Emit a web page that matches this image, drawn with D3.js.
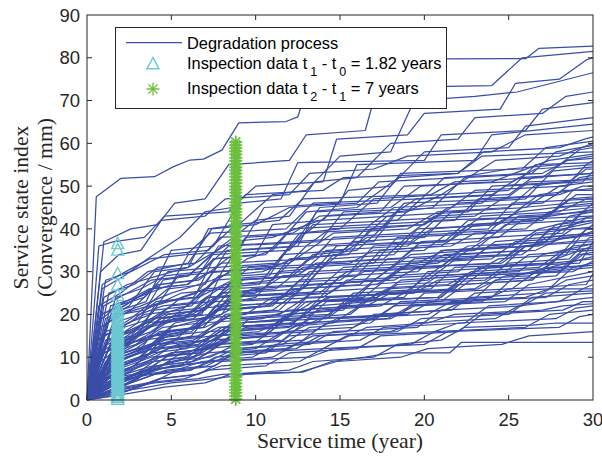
<!DOCTYPE html>
<html>
<head>
<meta charset="utf-8">
<script src="https://cdn.jsdelivr.net/npm/d3@7"></script>
<style>
  body { margin: 0; background: #fff; }
  svg { display: block; }
</style>
</head>
<body>
<div id="chart"></div>
<script>
const width = 602;
const height = 458;
const margin = { top: 15, right: 9, bottom: 58, left: 87 };

const xTicks = [0, 5, 10, 15, 20, 25, 30];
const yTicks = [0, 10, 20, 30, 40, 50, 60, 70, 80, 90];

// inspection times (years)
const t1 = 1.82;
const t2 = 8.82;

// degradation paths, flat [t, y, t, y, ...]
const paths = [
  [0,0, .55,47.5, 2,51.8, 4,52.2, 5.1,54.5, 6.1,56.1, 6.9,56.3, 8,58.4, 9,64.8, 11.8,65.1, 12.5,66.2, 13.6,79.6, 26,79.8, 26.8,82.2, 30,82.7],
  [0,0, 1,37, 2.6,40, 4.2,41, 5.2,46, 7,47, 8.4,55, 12,56, 13,62, 16.5,63, 17.2,73, 24,73.5, 25.8,80, 30,81.5],
  [0,0, .9,26, 2.2,29, 3.6,33, 5.5,38, 7,44, 8.6,45, 10,50, 14,51, 14.8,61, 19,62, 20,67, 24.5,68, 25.4,74, 28,75, 29.6,79.5, 30,80],
  [0,0, 1.1,19, 2.5,22, 4,30, 6,31, 7.2,40, 9,41, 11,48, 13,49, 15,57, 18,58, 19.4,70, 23,71, 25.5,72, 30,76.5],
  [0,0, 1.5,14, 3,18, 4.5,28, 6,29, 8,36, 10,42, 12,43, 13.5,51, 16,52, 18,60, 22,61, 23,66, 27,67, 28.4,71, 30,72],
  [0,0, 1,17, 2,21, 3.5,23, 5,35, 7.5,36, 9,46, 11.5,47, 12.5,55.5, 20,56, 21,62, 26,63, 27,68, 30,69.5],
  [0,0, 1.3,10, 3,15, 4,22, 6.5,25, 7.5,33, 10,34, 11,41, 14,42, 15.5,49, 18,50, 20,58, 25,59, 26,64, 30,66],
  [0,0, 1.8,21, 3,24, 5,27, 6,34, 9,35, 10.5,45, 15,46, 16,55, 23,56, 24,62, 30,64.5],
  [0,0, .8,30, 1.9,34, 3.2,35, 4.4,42, 7,43, 8.2,47, 12,48, 13.2,53, 17,54, 19,57, 24,58, 26,62, 30,63],
  [0,0, 1.6,12, 3.4,17, 5.6,24, 7,26, 9.5,33, 11,35, 13,44, 16,45, 18.5,52, 22,53, 23.5,58, 28,59, 29.5,61, 30,61.5],
  [0,0, 1.2,8, 2.8,14, 4,18, 6.8,20, 8,30, 11,31, 12.6,39, 15,40, 17,47, 21,48, 24.2,56, 28,57, 30,60],
  [0,0, .7,22, 2,25, 3.6,30, 6,32, 7.4,40, 10,41, 12,45, 16,46, 17.3,51, 22,52, 25,54, 28,55, 29.2,58.5, 30,59],
  [0,0, 1.4,16, 2.6,19, 4.8,26, 7,27, 8.3,35, 12.5,36, 13.6,44, 18,45, 19.8,50, 24,51, 27.4,56, 30,57.5],
  [0,0, 2,6, 3.5,10, 5,17, 7,19, 8.8,27, 11,28, 13,36, 17,37, 18.4,44, 20.5,45, 22.4,52, 27,53, 28.5,56, 30,56.5],
  [0,0, .9,12, 2.4,18, 3.8,20, 5.4,29, 8,30, 9.4,38, 13,39, 14.2,43, 19,44, 21,48, 25,49, 26.6,55, 30,55.5],
  [0,0, 1.6,9, 3,11, 4.6,19, 6.4,21, 8,25, 10.5,26, 12,33, 15.5,34, 16.8,40, 20,41, 22,46, 26,47, 27.6,53.5, 30,54.5],
  [0,0, 1,24, 2.4,27, 4.2,29, 6,31, 8.6,37, 11,38, 13.8,42, 18,43, 19.5,47, 24,48, 25.6,52, 30,53],
  [0,0, 1.7,20, 3.2,22, 5,25, 7.4,28, 9.2,31, 12,32, 14.6,39, 19,40, 20.8,44, 25,45, 26.5,50, 30,52],
  [0,0, 1.2,5, 2.8,8, 4.4,13, 6.2,15, 7.6,22, 10,24, 11.4,30, 14,31, 15.8,37, 20,38, 21.6,44, 26,45, 28,50, 30,51],
  [0,0, 2.2,11, 3.8,13, 5.2,18, 8,20, 9.2,28, 12,29, 13.4,34, 16,35, 18,42, 23,43, 24.6,47, 28,48, 29.4,50, 30,50],
  [0,0, .6,18, 1.8,22, 3.4,24, 4.8,30, 7.6,31, 9,35, 13,36, 14.4,40, 20,41, 21.4,45, 27,46, 28.2,49, 30,49],
  [0,0, 1.5,7, 3.2,10, 4.5,15, 6.6,17, 8.4,21, 11,22, 12.6,28, 16,29, 17.4,35, 21,36, 23,41, 27,42, 29,48, 30,48],
  [0,0, 1.1,14, 2.6,16, 4.4,20, 6,22, 7.8,29, 10.4,30, 12.2,33, 15,34, 16.6,38, 22,39, 23.4,43, 28,44, 29.6,47, 30,47],
  [0,0, 2.4,4, 4,7, 5.6,11, 8,13, 9.6,19, 12,20, 13.8,27, 17,28, 19.2,34, 23,35, 24.8,41, 28.8,42, 30,46],
  [0,0, .8,9, 2.2,13, 3.6,17, 5.8,19, 7.2,24, 10,25, 11.6,29, 15.6,30, 17,36, 21.4,37, 22.6,41, 26.6,42, 28,45, 30,45.5],
  [0,0, 1.3,19, 2.8,21, 4.6,23, 6.6,24, 8.6,28, 12.4,29, 13.6,32, 18.6,33, 19.8,37, 24.4,38, 25.8,42, 30,44.5],
  [0,0, 1.9,3, 3.4,6, 5,9, 7.2,11, 8.8,16, 11.2,17, 13,23, 16.4,24, 18,29, 22,30, 23.8,36, 27.2,37, 28.6,43, 30,44],
  [0,0, 1,11, 2.4,14, 3.8,16, 5.6,21, 8.2,22, 9.8,26, 14,27, 15.2,31, 19.6,32, 21.2,35, 25.2,36, 26.8,40, 30,43],
  [0,0, 1.6,2, 3,5, 4.2,8, 6.4,10, 8,14, 10.6,15, 12,20, 15.2,21, 16.8,27, 20.2,28, 22.2,34, 26.2,35, 27.4,40, 30,42],
  [0,0, .7,6, 2,10, 3.2,12, 5.2,14, 6.8,19, 9.4,20, 11,24, 14.4,25, 16.4,30, 21,31, 22.2,35, 26.8,36, 28.2,40, 30,41.5],
  [0,0, 1.4,13, 2.9,15, 4.2,18, 6.8,19, 8.4,22, 12.6,23, 14,27, 17.6,28, 19.2,32, 24,33, 25.4,37, 29,38, 30,41],
  [0,0, 2,8, 3.6,10, 5.4,13, 7.6,14, 9.2,18, 11.8,19, 13.4,23, 17.2,24, 18.6,28, 22.6,29, 24.4,33, 28.4,34, 29.6,40, 30,40],
  [0,0, 1.2,4, 2.6,7, 4,9, 6,10, 7.4,15, 10.2,16, 11.8,19, 15.6,20, 17.2,25, 21.8,26, 23.2,31, 27.6,32, 29,38, 30,39.5],
  [0,0, .9,15, 2.2,17, 3.8,19, 6.2,20, 7.6,23, 11.6,24, 13.2,27, 18.2,28, 19.6,31, 24.6,32, 26,36, 30,39],
  [0,0, 1.8,5, 3.2,8, 4.8,12, 7,13, 8.6,17, 12.2,18, 13.6,22, 16.8,23, 18.4,27, 23.6,28, 25,32, 28.6,33, 29.8,38, 30,38],
  [0,0, 1.1,7, 2.5,9, 3.9,11, 5.9,12, 7.2,16, 10.8,17, 12.4,21, 16,22, 17.8,26, 22.4,27, 23.8,31, 29.2,32, 30,37],
  [0,0, 1.5,10, 3,12, 4.4,14, 6.6,15, 8.2,19, 11.4,20, 13,24, 18.8,25, 20.2,29, 25.6,30, 27,34, 30,36.5],
  [0,0, .8,3, 2.1,5, 3.5,7, 5.5,8, 7,12, 9.8,13, 11.2,17, 14.6,18, 16.2,22, 20.6,23, 22,27, 26.4,28, 27.8,33, 30,36],
  [0,0, 1.3,9, 2.7,11, 4.1,13, 6.3,14, 7.8,17, 12,18, 13.8,21, 17.4,22, 18.8,25, 23,26, 24.6,30, 28.2,31, 29.4,35, 30,35],
  [0,0, 2.3,2, 3.8,4, 5.4,7, 7.6,8, 9,12, 11.6,13, 13.2,17, 16.8,18, 18.2,22, 22.8,23, 24.2,28, 27.8,29, 29.2,34, 30,34.5],
  [0,0, 1,5, 2.4,7, 3.8,9, 5.8,10, 7.2,13, 11,14, 12.6,18, 17,19, 18.6,23, 24,24, 25.4,29, 30,33.5],
  [0,0, 1.7,12, 3.1,14, 4.6,16, 7,17, 8.6,20, 13,21, 14.4,24, 19.4,25, 20.8,28, 26.2,29, 27.6,32, 30,33],
  [0,0, 1.2,2, 2.6,4, 4,6, 6.2,7, 7.6,10, 10.6,11, 12,15, 15.4,16, 17,20, 21.6,21, 23,25, 27.4,26, 28.8,31, 30,32],
  [0,0, .6,10, 1.9,13, 3.3,14, 5.3,15, 6.8,18, 10.4,19, 12,21, 16.6,22, 18,25, 23.2,26, 24.8,29, 30,31],
  [0,0, 1.9,4, 3.4,6, 4.9,9, 7.3,10, 8.8,13, 12.8,14, 14.2,18, 18,19, 19.4,22, 24.8,23, 26.2,27, 30,30],
  [0,0, 1.4,6, 2.8,8, 4.2,10, 6.4,11, 8,14, 11.2,15, 12.8,18, 17.8,19, 19.2,22, 23.4,23, 25,26, 29.6,27, 30,29.5],
  [0,0, 1,3, 2.3,5, 3.7,7, 5.7,8, 7.2,11, 10,12, 11.6,16, 15.8,17, 17.4,20, 21.2,21, 22.8,24, 27,25, 28.4,28, 30,29],
  [0,0, 2.1,7, 3.6,9, 5,11, 7.4,12, 9,15, 13.4,16, 14.8,19, 20.2,20, 21.6,23, 27.2,24, 28.6,27, 30,28],
  [0,0, 1.6,1, 3,3, 4.4,5, 6.6,6, 8,9, 11,10, 12.4,13, 16.2,14, 17.6,17, 22.4,18, 23.8,22, 28,23, 29.4,26, 30,27],
  [0,0, 1.1,8, 2.5,10, 3.9,12, 6.1,13, 7.6,15, 12.2,16, 13.8,19, 19,20, 20.4,23, 26,24, 27.4,26, 30,26],
  [0,0, 1.8,3, 3.3,5, 4.7,7, 7.1,8, 8.6,11, 12.4,12, 13.8,15, 18.4,16, 19.8,19, 25,20, 26.4,24, 30,25],
  [0,0, 1.3,5, 2.7,6, 4.1,8, 6.3,9, 7.8,11, 11.8,12, 13.4,15, 18,16, 19.4,18, 24.2,19, 25.6,22, 30,24],
  [0,0, .9,1, 2.2,3, 3.6,4, 5.8,5, 7.2,7, 10.6,8, 12,11, 16,12, 17.4,15, 22,16, 23.4,20, 28.2,21, 29.4,23, 30,23],
  [0,0, 2.2,5, 3.7,7, 5.2,8, 7.6,9, 9.2,11, 14,12, 15.4,15, 20.6,16, 22,18, 27.8,19, 29,21.5, 30,22],
  [0,0, 1.5,2, 2.9,3, 4.3,5, 6.5,6, 8,8, 12.6,9, 14,12, 19.2,13, 20.6,16, 26,17, 27.4,20, 30,21],
  [0,0, 1,4, 2.4,5, 3.8,6, 6,7, 7.4,9, 13.2,10, 14.6,12, 20,13, 21.4,16, 28,17, 29.2,19.5, 30,20],
  [0,0, 1.7,1, 3.2,2, 4.6,3, 7,4, 8.5,6, 12,7, 13.4,9, 17,10, 18.4,13, 21,14, 22.4,17, 26.4,17.5, 27.8,18, 30,18],
  [0,0, 1.2,2, 2.6,3, 4,4, 6.6,5, 8,6, 12.8,6.5, 14.5,9, 16.5,10, 18,11, 21.5,11, 22.2,13.5, 30,13.5],
  [0,0, 2,2, 3.6,3, 5,4, 7.6,5, 9.4,6, 12.6,6.5, 14.8,9, 18.6,10, 20.2,12, 24.6,13, 26.2,15, 30,16],
  [0,0, .7,36, 1.6,37, 3.4,38, 4.6,43, 8.4,44, 9.4,48, 14,49, 15.2,52, 22,53, 23.4,57, 30,58],
  [0,0, 1.1,28, 2.6,30, 4.6,34, 7.2,35, 8.8,41, 11.4,42, 12.8,47, 20.4,48, 21.8,51, 27,52, 28.4,56, 30,57],
  [0,0, 1.4,22, 3,24, 4.4,27, 6.6,28, 8,32, 13.4,33, 14.6,38, 19.2,39, 20.6,43, 25.4,44, 26.8,48, 30,49.5],
  [0,0, 1.9,15, 3.4,18, 5,22, 7.4,23, 9,29, 12.8,30, 14.2,35, 19,36, 20.4,40, 24.2,41, 25.6,44, 30,46],
  [0,0, 1,11, 2.3,13, 3.9,15, 6.3,17, 7.7,21, 10.6,22, 12.2,26, 17.2,27, 18.6,31, 24.4,32, 25.8,36, 30,37.5],
  [0,0, .8,17, 2,20, 3.4,21, 5.6,25, 8.2,26, 9.6,31, 15.6,32, 17,35, 21.6,36, 23,39, 28.4,40, 29.6,42.5, 30,42.5],
  [0,0, 1.5,8, 3,11, 4.6,14, 6.8,15, 8.2,20, 11,21, 12.4,25, 16.4,26, 18,31, 20.8,32, 22.6,36, 27.6,37, 28.8,40, 30,40],
  [0,0, 2.2,6, 3.9,8, 5.5,12, 7.8,13, 9.4,17, 13.6,18, 15,22, 21,23, 22.4,27, 26.2,28, 27.6,31, 30,31.5],
  [0,0, 1.2,14, 2.7,16, 4.1,18, 6.3,19, 7.9,24, 13.8,25, 15.4,30, 19.8,31, 21.2,34, 26.6,35, 28.2,38, 30,38.5],
  [0,0, 1.7,9, 3.1,11, 4.7,13, 7.1,14, 8.7,18, 14.2,19, 15.6,23, 20.8,24, 22.4,29, 28.8,30, 30,32.5],
  [0,0, .9,20, 2.3,23, 3.7,26, 5.9,27, 7.3,30, 12.6,31, 14.2,36, 21.2,37, 22.6,42, 27.2,43, 28.6,47, 30,47.5],
  [0,0, 1.3,25, 2.8,27, 4.2,31, 6.4,32, 7.9,38, 12.2,39, 13.8,43, 17.4,44, 18.8,50, 25.2,51, 26.6,54, 30,55],
  [0,0, 1.6,18, 3.1,20, 4.5,22, 6.7,23, 8.2,27, 15,28, 16.4,32, 22.8,33, 24.2,37, 30,39],
  [0,0, 1,6, 2.4,8, 3.8,10, 6,11, 7.4,14, 10.4,15, 11.8,20, 14.8,21, 16.4,26, 21.4,27, 22.8,30, 26.8,31, 28.2,35, 30,35.5],
  [0,0, 1.8,4, 3.4,6, 5,8, 7.2,9, 8.8,12, 13.2,13, 14.6,16, 19.6,17, 21,21, 25.8,22, 27.2,25, 30,25.5],
  [0,0, .5,3, 1.9,4, 3.3,6, 5.3,7, 6.8,9, 9.8,10, 11.2,13, 15,14, 16.6,17, 20.2,18, 21.8,20, 27,21, 28.2,22, 30,22.5],
  [0,0, 1.2,13, 2.6,15, 4,21, 6.2,22, 7.6,28, 10.8,29, 12.2,37, 16.4,38, 17.8,43, 22.6,44, 24,50, 28.6,51, 29.6,54, 30,54],
  [0,0, 1.7,7, 3.1,10, 4.7,16, 6.9,17, 8.4,24, 12.4,25, 13.8,32, 17.6,33, 19.2,39, 23.8,40, 25.2,46, 30,47],
  [0,0, .6,14, 2,17, 3.4,20, 5.6,21, 7,26, 10.2,27, 11.6,34, 15.2,35, 16.8,41, 21.8,42, 23.2,47, 27.8,48, 29.2,52, 30,52.5],
  [0,0, 1.4,10, 2.9,12, 4.3,16, 6.5,17, 8.1,22, 13.6,23, 15,29, 19.6,30, 21,35, 26.4,36, 27.8,41, 30,42],
  [0,0, 2,12, 3.5,15, 5.1,19, 7.3,20, 8.9,25, 12.8,26, 14.4,33, 18.2,34, 19.6,40, 24.4,41, 25.8,45, 30,46.5],
  [0,0, 1.1,16, 2.5,18, 4.1,23, 6.3,24, 7.7,31, 11.2,32, 12.8,39, 17.4,40, 18.8,46, 24.8,47, 26.2,51, 30,51.5],
  [0,0, 1.5,4, 2.9,6, 4.3,10, 6.7,11, 8.1,16, 12,17, 13.6,23, 18.8,24, 20.2,30, 24.6,31, 26,36, 30,37],
  [0,0, .8,20, 2.2,22, 3.8,26, 6,27, 7.5,33, 10.6,34, 12.1,40, 16.8,41, 18.2,45, 23.4,46, 24.8,50, 29.4,51, 30,53.5],
  [0,0, 1.9,10, 3.4,12, 4.8,15, 7,16, 8.5,20, 11.4,21, 13,27, 17.8,28, 19.4,33, 25,34, 26.6,39, 30,40.5],
  [0,0, 1.3,3, 2.7,5, 4.1,8, 6.3,9, 7.9,13, 11.6,14, 13.2,19, 18.6,20, 20,25, 25.2,26, 26.6,30, 30,31.5],
  [0,0, 1,22, 2.4,25, 3.8,28, 6,29, 7.4,34, 12,35, 13.4,41, 18.4,42, 19.8,47, 25,48, 26.4,52, 30,53],
  [0,0, 1.6,15, 3,17, 4.6,20, 6.8,21, 8.4,26, 13,27, 14.6,34, 20,35, 21.4,39, 26,40, 27.4,44, 30,45],
  [0,0, 2.3,9, 3.8,11, 5.2,14, 7.5,15, 9,19, 14.4,20, 15.8,25, 20.4,26, 21.8,31, 27.4,32, 28.8,36, 30,36.5],
  [0,0, .7,11, 2,14, 3.5,18, 5.7,19, 7.1,24, 11.8,25, 13.2,30, 18,31, 19.6,36, 23.2,37, 24.6,42, 29.8,43, 30,43],
  [0,0, 1.2,18, 2.6,21, 4.2,27, 6.4,28, 7.8,36, 12.4,37, 13.8,45, 17.2,46, 18.6,53, 25.8,54, 27.2,59, 30,60.5],
  [0,0, 1.8,13, 3.2,16, 4.8,20, 7,21, 8.6,28, 13.2,29, 14.8,36, 19.2,37, 20.6,42, 27.4,43, 28.8,49, 30,49],
  [0,0, 1.4,7, 2.8,9, 4.4,12, 6.6,13, 8,17, 12.8,18, 14.2,23, 21,24, 22.4,29, 28,30, 29.4,34, 30,34],
  [0,0, .9,27, 2.3,30, 3.7,33, 5.9,34, 7.3,39, 11.8,40, 13.4,46, 19.8,47, 21.2,52, 26.4,53, 27.8,58, 30,59.5],
  [0,0, 1.5,11, 2.9,13, 4.5,17, 6.7,18, 8.3,23, 14,24, 15.4,28, 20.2,29, 21.6,33, 25.8,34, 27.2,38, 30,39],
  [0,0, 2.1,5, 3.6,7, 5,11, 7.2,12, 8.7,18, 12.6,19, 14.2,24, 19.2,25, 20.8,29, 24.8,30, 26.2,34, 30,35],
  [0,0, 1.1,9, 2.5,12, 4,15, 6.2,16, 7.6,21, 10.8,22, 12.4,26, 16.2,27, 17.8,33, 22.2,34, 23.8,38, 28.2,39, 29.4,44, 30,44.5],
  [0,0, 1.7,24, 3.2,26, 4.6,29, 6.8,30, 8.4,36, 13.8,37, 15.2,44, 21.6,45, 23,49, 28.4,50, 29.6,55, 30,56],
  [0,0, 1.3,12, 2.7,14, 4.3,19, 6.5,20, 8,25, 11.2,26, 12.8,31, 17,32, 18.4,38, 24.2,39, 25.6,43, 30,44]
];

// inspection readings at t1 (triangles) and t2 (asterisks)
const inspect1 = [36.5, 35, 29.5, 26.8, 24.4, 21.7, 20.8, 20.1, 19.3, 18.6, 17.9, 17.2, 16.6, 16.1, 15.5,
  15.1, 14.6, 14.2, 13.7, 13.3, 12.8, 12.4, 11.9, 11.5, 11.1, 10.6, 10.2, 9.7, 9.3, 8.8, 8.4, 8.0,
  7.5, 7.1, 6.6, 6.2, 5.7, 5.3, 4.9, 4.4, 4.0, 3.5, 3.1, 2.6, 2.2, 1.8, 1.3, 0.9, 0.5, 0.1];
const inspect2 = [60.3, 59.6, 58.9, 58.1, 57.4, 56.6, 55.9, 55.1, 54.4, 53.7, 52.9, 52.2, 51.4, 50.7, 49.9,
  49.2, 48.5, 47.7, 47.0, 46.2, 45.5, 44.7, 44.0, 43.3, 42.5, 41.8, 41.0, 40.3, 39.5, 38.8, 38.1,
  37.3, 36.6, 35.8, 35.1, 34.3, 33.6, 32.9, 32.1, 31.4, 30.6, 29.9, 29.1, 28.4, 27.7, 26.9, 26.2,
  25.4, 24.7, 23.9, 23.2, 22.5, 21.7, 21.0, 20.2, 19.5, 18.7, 18.0, 17.3, 16.5, 15.8, 15.0, 14.3,
  13.5, 12.8, 12.1, 11.3, 10.6, 9.8, 9.1, 8.3, 7.6, 6.9, 6.1, 5.4, 4.6, 3.9, 3.1, 2.4, 1.7, 0.9, 0.2];

const lineColor = "#3a4ea8";
const cyan = "#6cc9d3";
const green = "#6abf3e";
const axisColor = "#262626";

const x = d3.scaleLinear().domain([0, 30]).range([margin.left, width - margin.right]);
const y = d3.scaleLinear().domain([0, 90]).range([height - margin.bottom, margin.top]);

const svg = d3.select("#chart")
  .append("svg")
  .attr("width", width)
  .attr("height", height);

const toPoints = (arr) => d3.range(0, arr.length, 2).map((i) => [arr[i], arr[i + 1]]);

const line = d3.line()
  .x((d) => x(d[0]))
  .y((d) => y(d[1]));

// Degradation paths
svg.append("g")
  .selectAll("path")
  .data(paths.map(toPoints))
  .join("path")
  .attr("d", line)
  .attr("fill", "none")
  .attr("stroke", lineColor)
  .attr("stroke-width", 1.25)
  .attr("stroke-linejoin", "round");

const triSize = 12;
const triPath = `M0,${-triSize * 0.55}L${triSize / 2},${triSize * 0.4}L${-triSize / 2},${triSize * 0.4}Z`;
const ast = 6.5;
const astD = ast * 0.7071;
const astPath = `M${-ast},0L${ast},0M0,${-ast}L0,${ast}M${-astD},${-astD}L${astD},${astD}M${-astD},${astD}L${astD},${-astD}`;

// Inspection markers
svg.append("g")
  .selectAll("path")
  .data(inspect1)
  .join("path")
  .attr("d", triPath)
  .attr("transform", (d) => `translate(${x(t1)},${y(d)})`)
  .attr("fill", "none")
  .attr("stroke", cyan)
  .attr("stroke-width", 1.4);

svg.append("g")
  .selectAll("path")
  .data(inspect2)
  .join("path")
  .attr("d", astPath)
  .attr("transform", (d) => `translate(${x(t2)},${y(d)})`)
  .attr("fill", "none")
  .attr("stroke", green)
  .attr("stroke-width", 1.7);

// Axes box with inward ticks
const plotW = width - margin.left - margin.right;
const plotH = height - margin.top - margin.bottom;
const tickLen = 5;
const axes = svg.append("g").attr("stroke", axisColor).attr("stroke-width", 1);

axes.append("rect")
  .attr("x", margin.left)
  .attr("y", margin.top)
  .attr("width", plotW)
  .attr("height", plotH)
  .attr("fill", "none");

axes.selectAll(".xt")
  .data(xTicks.slice(1, -1))
  .join("g")
  .each(function (d) {
    const g = d3.select(this);
    g.append("line").attr("x1", x(d)).attr("x2", x(d)).attr("y1", y(0)).attr("y2", y(0) - tickLen);
    g.append("line").attr("x1", x(d)).attr("x2", x(d)).attr("y1", y(90)).attr("y2", y(90) + tickLen);
  });

axes.selectAll(".yt")
  .data(yTicks.slice(1, -1))
  .join("g")
  .each(function (d) {
    const g = d3.select(this);
    g.append("line").attr("x1", x(0)).attr("x2", x(0) + tickLen).attr("y1", y(d)).attr("y2", y(d));
    g.append("line").attr("x1", x(30)).attr("x2", x(30) - tickLen).attr("y1", y(d)).attr("y2", y(d));
  });

const tickFont = "'Liberation Sans', Arial, sans-serif";

svg.append("g")
  .selectAll("text")
  .data(xTicks)
  .join("text")
  .attr("x", (d) => x(d))
  .attr("y", 426)
  .attr("text-anchor", "middle")
  .attr("font-family", tickFont)
  .attr("font-size", 18.5)
  .attr("fill", axisColor)
  .text((d) => d);

svg.append("g")
  .selectAll("text")
  .data(yTicks)
  .join("text")
  .attr("x", 80)
  .attr("y", (d) => y(d))
  .attr("dy", "0.36em")
  .attr("text-anchor", "end")
  .attr("font-family", tickFont)
  .attr("font-size", 18.5)
  .attr("fill", axisColor)
  .text((d) => d);

// Axis labels
const labelFont = "'Liberation Serif', 'Times New Roman', serif";

svg.append("text")
  .attr("x", x(15))
  .attr("y", 448)
  .attr("text-anchor", "middle")
  .attr("font-family", labelFont)
  .attr("font-size", 21.7)
  .attr("fill", axisColor)
  .text("Service time (year)");

const yLabel = svg.append("text")
  .attr("transform", `translate(0,${y(45)}) rotate(-90)`)
  .attr("text-anchor", "middle")
  .attr("font-family", labelFont)
  .attr("font-size", 21.7)
  .attr("fill", axisColor);
yLabel.append("tspan").attr("x", 0).attr("y", 28).text("Service state index");
yLabel.append("tspan").attr("x", 0).attr("y", 52).text("(Convergence / mm)");

// Legend
const legend = svg.append("g").attr("font-family", tickFont).attr("font-size", 16.4).attr("fill", "#000");

legend.append("rect")
  .attr("x", 115.5)
  .attr("y", 27.5)
  .attr("width", 331)
  .attr("height", 81)
  .attr("fill", "#fff")
  .attr("stroke", axisColor)
  .attr("stroke-width", 1);

legend.append("line")
  .attr("x1", 126).attr("x2", 182)
  .attr("y1", 42.5).attr("y2", 42.5)
  .attr("stroke", lineColor)
  .attr("stroke-width", 1.25);
legend.append("text").attr("x", 187).attr("y", 48.5).text("Degradation process");

legend.append("path")
  .attr("d", triPath)
  .attr("transform", "translate(153,64)")
  .attr("fill", "none")
  .attr("stroke", cyan)
  .attr("stroke-width", 1.4);
const row2 = legend.append("text").attr("x", 187).attr("y", 69);
row2.append("tspan").text("Inspection data t");
row2.append("tspan").attr("dx", 3).attr("dy", 7).attr("font-size", 12.5).text("1");
row2.append("tspan").attr("dy", -7).text(" - t");
row2.append("tspan").attr("dx", 3).attr("dy", 7).attr("font-size", 12.5).text("0");
row2.append("tspan").attr("dy", -7).text(" = 1.82 years");

legend.append("path")
  .attr("d", astPath)
  .attr("transform", "translate(153,89)")
  .attr("fill", "none")
  .attr("stroke", green)
  .attr("stroke-width", 1.3);
const row3 = legend.append("text").attr("x", 187).attr("y", 94);
row3.append("tspan").text("Inspection data t");
row3.append("tspan").attr("dx", 3).attr("dy", 7).attr("font-size", 12.5).text("2");
row3.append("tspan").attr("dy", -7).text(" - t");
row3.append("tspan").attr("dx", 3).attr("dy", 7).attr("font-size", 12.5).text("1");
row3.append("tspan").attr("dy", -7).text(" = 7 years");
</script>
</body>
</html>
